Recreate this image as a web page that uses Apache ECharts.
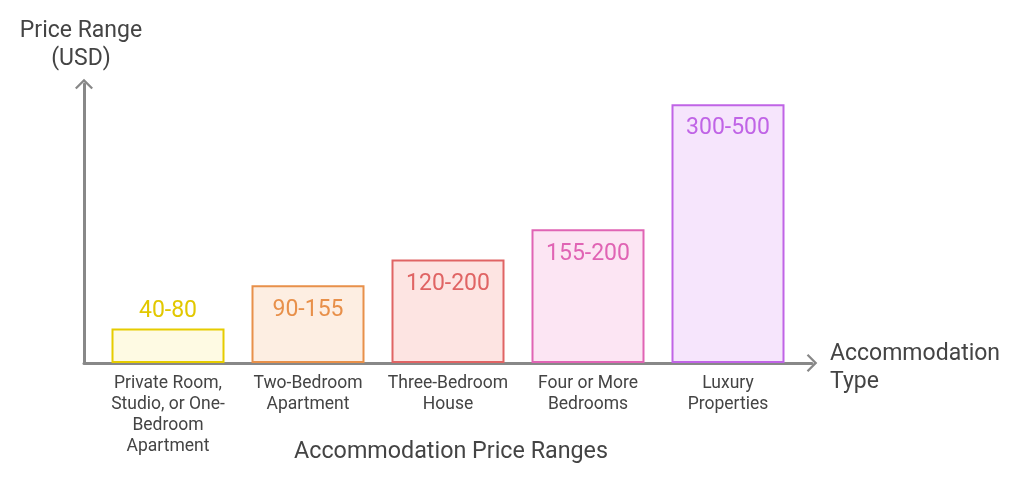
<!DOCTYPE html>
<html>
<head>
<meta charset="utf-8">
<script src="https://cdn.jsdelivr.net/npm/echarts@6/dist/echarts.min.js"></script>
<style>
html,body{margin:0;padding:0;background:#fff;}
#chart{width:1024px;height:477px;}
</style>
</head>
<body>
<div id="chart"></div>
<script>
// Data
var categories = [
  'Private Room,\nStudio, or One-\nBedroom\nApartment',
  'Two-Bedroom\nApartment',
  'Three-Bedroom\nHouse',
  'Four or More\nBedrooms',
  'Luxury\nProperties'
];
var priceLow = [40, 90, 120, 155, 300];
var priceHigh = [80, 155, 200, 200, 500];
var borderColors = ['#E6CC00', '#E8904A', '#E06464', '#E064B4', '#C064E6'];
var fillColors = ['#FEFAE3', '#FDEEE2', '#FDE4E2', '#FCE5F3', '#F6E5FC'];
var labelColors = ['#E2C800', '#E8904A', '#E06464', '#E064B4', '#C064E6'];

var FONT = 'Roboto, "Noto Sans", sans-serif';
var chevron = 'path://M9,0 L18,9 L16.4,10.6 L9,3.2 L1.6,10.6 L0,9 Z';

var yMax = 328;

var barData = priceLow.map(function (v, i) {
  return {
    value: v,
    itemStyle: { color: fillColors[i], borderColor: borderColors[i], borderWidth: 2 },
    label: {
      show: true,
      position: i === 0 ? 'top' : 'insideTop',
      distance: i === 0 ? 6 : 13,
      formatter: v + '-' + priceHigh[i],
      color: labelColors[i],
      fontSize: 23,
      fontFamily: FONT
    }
  };
});

var chart = echarts.init(document.getElementById('chart'));
chart.setOption({
  backgroundColor: '#ffffff',
  animation: false,
  title: {
    text: 'Accommodation Price Ranges',
    left: 446, top: 436,
    textAlign: 'center',
    textStyle: { fontSize: 23.3, fontWeight: 'normal', color: '#444', fontFamily: FONT }
  },
  grid: [
    { left: 84, width: 728, top: 84, bottom: 114 },
    { left: 98, width: 700, top: 80, bottom: 114 }
  ],
  xAxis: [
    {
      gridIndex: 0, type: 'value', min: 0, max: 1,
      axisLine: { show: true, lineStyle: { color: '#888', width: 3 }, symbol: ['none', chevron], symbolSize: [18, 10.6] },
      axisTick: { show: false }, axisLabel: { show: false }, splitLine: { show: false },
      name: '{s|}\n{a|Accommodation}\n{a|Type}', nameLocation: 'end', nameGap: 18,
      nameTextStyle: {
        fontSize: 23, color: '#444', fontFamily: FONT, align: 'left', verticalAlign: 'middle',
        rich: {
          s: { lineHeight: 10, fontSize: 1 },
          a: { fontSize: 23, lineHeight: 28, color: '#444', fontFamily: FONT }
        }
      }
    },
    {
      gridIndex: 1, type: 'category', data: categories,
      axisLine: { show: false }, axisTick: { show: false }, splitLine: { show: false },
      axisLabel: { interval: 0, margin: 10, fontSize: 17.5, lineHeight: 21, color: '#444', fontFamily: FONT }
    }
  ],
  yAxis: [
    {
      gridIndex: 0, type: 'value', min: 0, max: 1,
      axisLine: { show: true, lineStyle: { color: '#888', width: 3 }, symbol: ['none', chevron], symbolSize: [18, 10.6] },
      axisTick: { show: false }, axisLabel: { show: false }, splitLine: { show: false },
      name: 'Price Range\n(USD)', nameLocation: 'end', nameGap: 11,
      nameTextStyle: { fontSize: 23, color: '#444', fontFamily: FONT, lineHeight: 28, align: 'center', padding: [0, 6, 0, 0] }
    },
    {
      gridIndex: 1, type: 'value', min: 0, max: yMax, show: false
    }
  ],
  series: [
    {
      type: 'bar', xAxisIndex: 1, yAxisIndex: 1,
      barWidth: 113,
      data: barData
    }
  ]
});
</script>
</body>
</html>
